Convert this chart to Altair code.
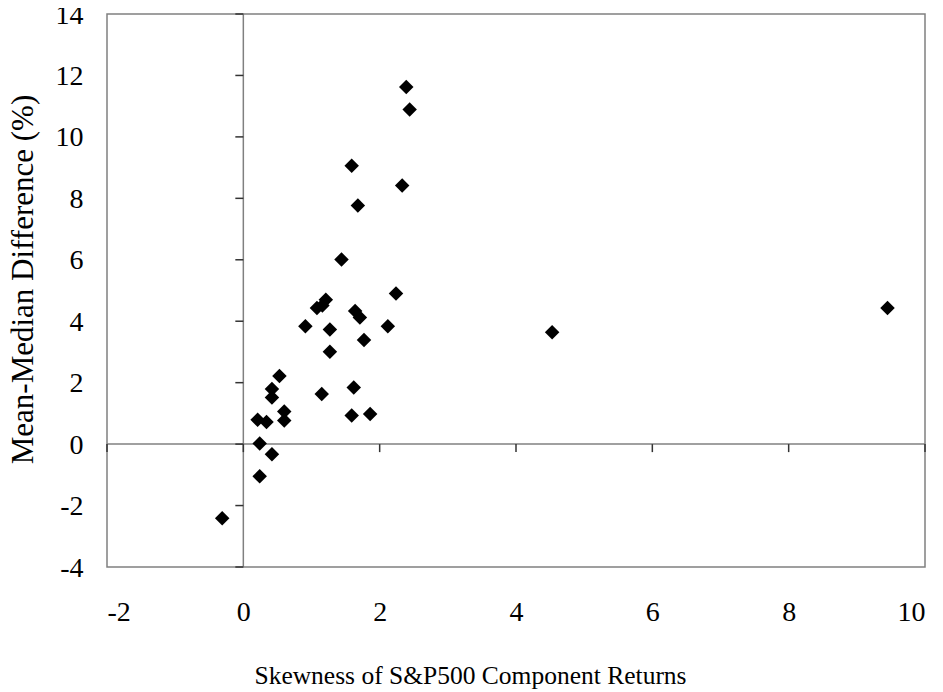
import altair as alt
import pandas as pd

skewness = [2.39, 2.44, 1.59, 2.33, 1.68, 1.44, 2.24, 1.08, 1.21, 1.16, 1.64, 1.71,
            0.91, 1.27, 2.12, 1.77, 1.27, 0.53, 0.42, 0.42, 1.15, 1.62, 0.60, 0.60,
            0.21, 0.34, 1.59, 1.86, 0.24, 0.42, 0.24, -0.31, 4.53, 9.45]
mean_median = [11.62, 10.89, 9.06, 8.42, 7.77, 6.01, 4.90, 4.43, 4.70, 4.51, 4.33, 4.12,
               3.84, 3.73, 3.84, 3.39, 3.01, 2.22, 1.79, 1.52, 1.63, 1.84, 1.06, 0.77,
               0.79, 0.72, 0.93, 0.98, 0.02, -0.33, -1.05, -2.41, 3.64, 4.43]

x_ticks = [-2, 0, 2, 4, 6, 8, 10]
y_ticks = [-4, -2, 0, 2, 4, 6, 8, 10, 12, 14]

df = pd.DataFrame({"x": skewness, "y": mean_median})
xt = pd.DataFrame({"x": x_ticks, "y": [0] * len(x_ticks)})
yt = pd.DataFrame({"x": [0] * len(y_ticks), "y": y_ticks})

FONT = "'Liberation Serif', 'Times New Roman', Times, serif"
LABEL = "toString(datum.value)"
xscale = alt.Scale(domain=[-2, 10], nice=False, zero=False)
yscale = alt.Scale(domain=[-4, 14], nice=False, zero=False)

points = alt.Chart(df).mark_point(shape="diamond", filled=True, color="black",
                                  size=210, opacity=1).encode(
    x=alt.X("x:Q", scale=xscale,
            axis=alt.Axis(values=x_ticks, ticks=False, tickSize=0, domain=False, grid=False,
                          labelExpr=LABEL,
                          labelFont=FONT, labelFontSize=28, labelColor="black",
                          labelBaseline="middle", labelPadding=45,
                          title="Skewness of S&P500 Component Returns",
                          titleFont=FONT, titleFontSize=25.5, titleFontWeight="normal",
                          titleColor="black", titleBaseline="middle", titleAlign="center",
                          titleX=363, titleY=108)),
    y=alt.Y("y:Q", scale=yscale,
            axis=alt.Axis(values=y_ticks, ticks=False, tickSize=0, domain=False, grid=False,
                          labelExpr=LABEL,
                          labelFont=FONT, labelFontSize=28, labelColor="black",
                          labelPadding=24, labelOffset=1,
                          title="Mean-Median Difference (%)",
                          titleFont=FONT, titleFontSize=31, titleFontWeight="normal",
                          titleColor="black", titleBaseline="middle", titleAlign="center",
                          titleX=-84, titleY=265)),
)

vline = alt.Chart(pd.DataFrame({"x": [0]})).mark_rule(color="#808080", strokeWidth=1.5).encode(
    x=alt.X("x:Q", scale=xscale))
hline = alt.Chart(pd.DataFrame({"y": [0]})).mark_rule(color="#808080", strokeWidth=1.5).encode(
    y=alt.Y("y:Q", scale=yscale))

xticks = alt.Chart(xt).mark_tick(orient="vertical", size=8, thickness=1.5, color="#333333",
                                 yOffset=4, opacity=1).encode(
    x=alt.X("x:Q", scale=xscale), y=alt.Y("y:Q", scale=yscale))
yticks = alt.Chart(yt).mark_tick(orient="horizontal", size=8, thickness=1.5, color="#333333",
                                 xOffset=-4, opacity=1).encode(
    x=alt.X("x:Q", scale=xscale), y=alt.Y("y:Q", scale=yscale))

chart = alt.layer(vline, hline, xticks, yticks, points).properties(
    width=818, height=553,
    autosize=alt.AutoSizeParams(type="none"),
    padding={"left": 99, "top": 6, "right": 10, "bottom": 122},
    background="white",
).configure_view(stroke="#808080", strokeWidth=1.5)

chart.save("out.html", embed_options={"renderer": "svg", "actions": False})
